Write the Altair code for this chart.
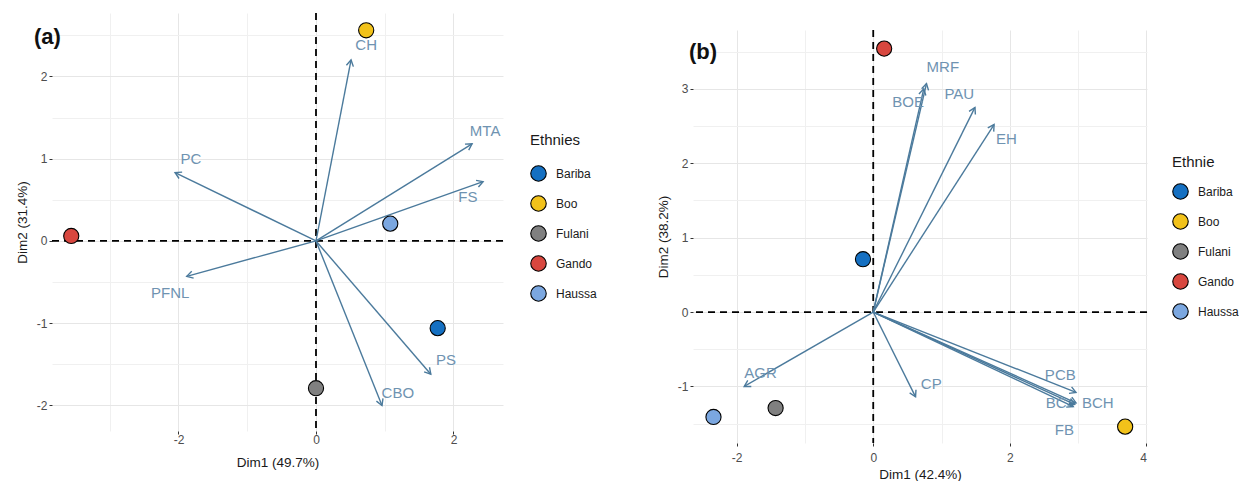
import math
import altair as alt
import pandas as pd

FONT = "Liberation Sans"
ARROW = "#4B7A9C"
LABEL = "#6F93B1"

groups = ["Bariba", "Boo", "Fulani", "Gando", "Haussa"]
group_colors = ["#1570C2", "#F2C21A", "#808080", "#D8473F", "#7BA7E0"]

# Panel (a)
a_ind_x = [1.77, 0.73, 0.00, -3.56, 1.08]
a_ind_y = [-1.06, 2.56, -1.79, 0.06, 0.21]
a_vars = ["CH", "MTA", "FS", "PC", "PFNL", "PS", "CBO"]
a_var_x = [0.51, 2.27, 2.43, -2.05, -1.88, 1.67, 0.96]
a_var_y = [2.20, 1.18, 0.72, 0.83, -0.43, -1.62, -2.00]
a_lab_x = [0.73, 2.46, 2.21, -1.82, -2.12, 1.89, 1.19]
a_lab_y = [2.38, 1.33, 0.53, 0.99, -0.63, -1.45, -1.85]

# Panel (b)
b_ind_x = [-0.15, 3.69, -1.43, 0.16, -2.34]
b_ind_y = [0.71, -1.54, -1.29, 3.54, -1.41]
b_vars = ["MRF", "BOE", "PAU", "EH", "AGR", "CP", "PCB", "BC", "BCH", "FB"]
b_var_x = [0.78, 0.74, 1.49, 1.77, -1.89, 0.62, 2.97, 2.95, 2.97, 2.93]
b_var_y = [3.07, 3.00, 2.75, 2.52, -1.00, -1.14, -1.08, -1.24, -1.22, -1.27]
b_lab_x = [1.02, 0.51, 1.26, 1.95, -1.65, 0.85, 2.74, 2.68, 3.29, 2.80]
b_lab_y = [3.29, 2.82, 2.93, 2.32, -0.82, -0.97, -0.85, -1.22, -1.22, -1.58]


def make_axis(title, grid_vals, lab_vals, label_pad, title_pad):
    test = f"indexof({lab_vals}, datum.value) >= 0"
    return alt.Axis(
        title=title,
        values=grid_vals,
        labelExpr=f"{test} ? '' + datum.value : ''",
        tickColor={"condition": {"test": test, "value": "#333333"}, "value": "transparent"},
        gridColor={"condition": {"test": test, "value": "#E6E6E6"}, "value": "#F0F0F0"},
        labelPadding=label_pad,
        titlePadding=title_pad,
    )


def panel(tag, tag_x, tag_y, ind_x, ind_y, vars_, vx, vy, lx, ly,
          xdom, ydom, w, h, xtitle, ytitle, xgrid, xlab, ygrid, ylab,
          legend_title, lgx, lgy, ltp, xlp, xtp):
    sx = w / (xdom[1] - xdom[0])
    sy = h / (ydom[1] - ydom[0])
    ind = pd.DataFrame({"g": groups, "x": ind_x, "y": ind_y})
    var = pd.DataFrame({"v": vars_, "x0": 0.0, "y0": 0.0, "x": vx, "y": vy,
                        "lx": lx, "ly": ly})
    var["ang"] = [(math.degrees(math.atan2(a * sx, b * sy)) + 360) % 360
                  for a, b in zip(vx, vy)]
    xs = alt.Scale(domain=xdom, nice=False, zero=False)
    ys = alt.Scale(domain=ydom, nice=False, zero=False)
    xa = make_axis(xtitle, xgrid, xlab, xlp, xtp)
    ya = make_axis(ytitle, ygrid, ylab, 2, 7)

    def X(f):
        return alt.X(f, type="quantitative", scale=xs, axis=xa)

    def Y(f):
        return alt.Y(f, type="quantitative", scale=ys, axis=ya)

    zero = pd.DataFrame({"z": [0.0]})
    vline = alt.Chart(zero).mark_rule(color="black", strokeDash=[7, 5], strokeWidth=1.8).encode(x=X("z"))
    hline = alt.Chart(zero).mark_rule(color="black", strokeDash=[7, 5], strokeWidth=1.8).encode(y=Y("z"))
    shafts = alt.Chart(var).mark_rule(color=ARROW, strokeWidth=1.4).encode(
        x=X("x0"), y=Y("y0"), x2=alt.X2("x"), y2=alt.Y2("y"))
    heads = alt.Chart(var).mark_point(
        shape="M-0.5,0.87L0,0L0.5,0.87", filled=False, stroke=ARROW,
        strokeWidth=1.4, size=200, opacity=1).encode(
        x=X("x"), y=Y("y"), angle=alt.Angle("ang:Q", scale=None))
    labels = alt.Chart(var).mark_text(color=LABEL, fontSize=15, font=FONT).encode(
        x=X("lx"), y=Y("ly"), text="v:N")
    pts = alt.Chart(ind).mark_point(
        filled=True, shape="circle", size=230, stroke="black", strokeWidth=1.1,
        opacity=1).encode(
        x=X("x"), y=Y("y"),
        color=alt.Color("g:N", scale=alt.Scale(domain=groups, range=group_colors),
                        legend=alt.Legend(title=legend_title, orient="none",
                                          legendX=lgx, legendY=lgy,
                                          titlePadding=ltp)))
    tagt = alt.Chart(pd.DataFrame({"t": [tag]})).mark_text(
        fontSize=22, fontWeight="bold", font=FONT, align="left",
        baseline="middle", color="#111111").encode(
        text="t:N", x=alt.value(tag_x), y=alt.value(tag_y))
    return alt.layer(vline, hline, shafts, heads, labels, pts, tagt).properties(
        width=w, height=h)


pa = panel("(a)", -18, 24, a_ind_x, a_ind_y, a_vars, a_var_x, a_var_y, a_lab_x, a_lab_y,
           [-3.84, 2.72], [-2.31, 2.77], 451, 418,
           "Dim1 (49.7%)", "Dim2 (31.4%)",
           [-3, -2, -1, 0, 1, 2], [-2, 0, 2],
           [-2, -1.5, -1, -0.5, 0, 0.5, 1, 1.5, 2, 2.5], [-2, -1, 0, 1, 2],
           "Ethnies", 478, 120, 17, 0, 10)

pb = panel("(b)", -4, 22, b_ind_x, b_ind_y, b_vars, b_var_x, b_var_y, b_lab_x, b_lab_y,
           [-2.64, 4.01], [-1.76, 3.79], 454, 413,
           "Dim1 (42.4%)", "Dim2 (38.2%)",
           [-2, -1, 0, 1, 2, 3, 4], [-2, 0, 2, 4],
           [-1.5, -1, -0.5, 0, 0.5, 1, 1.5, 2, 2.5, 3, 3.5], [-1, 0, 1, 2, 3],
           "Ethnie", 479, 125, 13, 6, 4)

spacer = alt.Chart(pd.DataFrame({"s": [0]})).mark_point(opacity=0).encode(
    x=alt.value(0), y=alt.value(0)).properties(width=1, height=16)

right = alt.vconcat(spacer, pb, spacing=0).resolve_scale(
    x="independent", y="independent", color="independent"
).resolve_legend(color="independent")

chart = alt.hconcat(pa, right, spacing=59).resolve_scale(
    x="independent", y="independent", color="independent"
).resolve_legend(color="independent").properties(
    padding={"left": 7, "top": 2, "right": 0, "bottom": 0}
).configure_view(stroke=None).configure_axis(
    domain=False, labelFont=FONT, titleFont=FONT, labelColor="#4D4D4D",
    titleColor="#1A1A1A", labelFontSize=12, titleFontSize=13.5,
    titleFontWeight="normal", tickSize=3,
).configure_legend(
    titleFont=FONT, labelFont=FONT, titleFontSize=15, titleFontWeight="normal",
    titleColor="#1A1A1A", labelFontSize=12, labelColor="#1A1A1A",
    symbolType="circle", symbolSize=240, symbolStrokeColor="black",
    symbolStrokeWidth=1.1, symbolOpacity=1, rowPadding=9,
    labelOffset=9,
)

chart.save("out.html", embed_options={"renderer": "svg", "actions": False})
